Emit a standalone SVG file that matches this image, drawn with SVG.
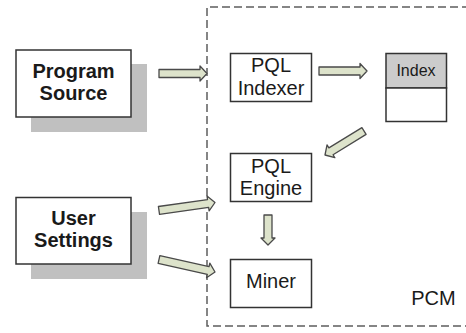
<svg xmlns="http://www.w3.org/2000/svg" width="466" height="333" viewBox="0 0 466 333">
<style>
.bg{fill:#ffffff}
.shadow{fill:#c0c0c0}
.box{fill:#ffffff;stroke:#333333;stroke-width:1.5}
.hdr{fill:#cccccc;stroke:#333333;stroke-width:1.5}
.pcm{fill:none;stroke:#5e5e5e;stroke-width:1.5;stroke-dasharray:8 4}
.arr{fill:#dde3cb;stroke:#4a4a4a;stroke-width:1.3;stroke-linejoin:round}
.tb{font-family:"Liberation Sans",Arial,sans-serif;font-size:20px;font-weight:bold;fill:#1a1a1a;text-anchor:middle}
.tr{font-family:"Liberation Sans",Arial,sans-serif;font-size:20px;fill:#1a1a1a;text-anchor:middle}
.ts{font-family:"Liberation Sans",Arial,sans-serif;font-size:16px;fill:#1a1a1a;text-anchor:middle}
</style>
<rect class="bg" x="0" y="0" width="466" height="333"/>
<g id="pcm">
<path class="pcm" d="M470 7 H207 V326 H470"/>
<text class="tr" x="433.5" y="305">PCM</text>
</g>
<g id="program-source">
<rect class="shadow" x="31" y="64" width="116" height="68"/>
<rect class="box" x="16" y="50" width="115" height="67"/>
<text class="tb" x="73.5" y="78">Program</text>
<text class="tb" x="73.5" y="100">Source</text>
</g>
<g id="user-settings">
<rect class="shadow" x="31" y="212" width="116" height="67"/>
<rect class="box" x="16" y="197.5" width="115" height="66.5"/>
<text class="tb" x="73.5" y="224.5">User</text>
<text class="tb" x="73.5" y="246.5">Settings</text>
</g>
<g id="pql-indexer">
<rect class="box" x="230.5" y="53.5" width="81" height="48"/>
<text class="tr" x="271" y="72">PQL</text>
<text class="tr" x="271" y="95">Indexer</text>
</g>
<g id="index">
<rect class="hdr" x="386" y="53.5" width="60.5" height="34.5"/>
<rect class="box" x="386" y="88" width="60.5" height="33.5"/>
<text class="ts" x="416" y="76">Index</text>
</g>
<g id="pql-engine">
<rect class="box" x="230.5" y="153.5" width="81" height="48"/>
<text class="tr" x="271" y="172.5">PQL</text>
<text class="tr" x="271" y="194.5">Engine</text>
</g>
<g id="miner">
<rect class="box" x="230.5" y="259.5" width="81" height="48"/>
<text class="tr" x="271" y="288">Miner</text>
</g>
<g id="connectors">
<polygon class="arr" transform="translate(207,73.5)" points="-48,-4 -7,-4 -7,-7.5 0,0 -7,7.5 -7,4 -48,4"/>
<polygon class="arr" transform="translate(367,71)" points="-48,-4 -7,-4 -7,-7.5 0,0 -7,7.5 -7,4 -48,4"/>
<polygon class="arr" transform="translate(325,155) rotate(148.4)" points="-45.8,-4 -7,-4 -7,-7.5 0,0 -7,7.5 -7,4 -45.8,4"/>
<polygon class="arr" transform="translate(268,245) rotate(90)" points="-30,-4 -7,-4 -7,-7 0,0 -7,7 -7,4 -30,4"/>
<polygon class="arr" transform="translate(215,202.5) rotate(-8.1)" points="-56.6,-4 -7,-4 -7,-7.5 0,0 -7,7.5 -7,4 -56.6,4"/>
<polygon class="arr" transform="translate(215,272) rotate(12.6)" points="-57.4,-4 -7,-4 -7,-7.5 0,0 -7,7.5 -7,4 -57.4,4"/>
</g>
</svg>
